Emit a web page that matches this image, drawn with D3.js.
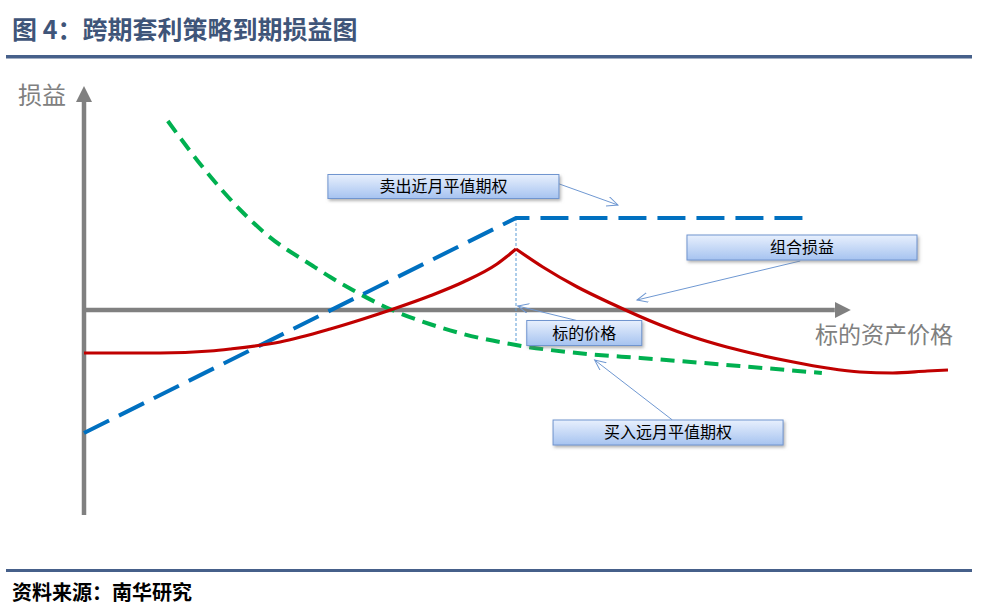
<!DOCTYPE html>
<html>
<head>
<meta charset="utf-8">
<script src="https://cdn.jsdelivr.net/npm/d3@7"></script>
<style>
body { margin: 0; background: #fff; }
text { font-family: "Noto Sans CJK SC", "Noto Sans", sans-serif; }
</style>
</head>
<body>
<svg width="981" height="609"></svg>
<script>
// texts
var title = "图 4：跨期套利策略到期损益图",
    source = "资料来源：南华研究",
    yLabel = "损益",
    xLabel = "标的资产价格";

// payoff at expiry (schematic)
var strike = 50;
var shortPrice = [0, 50, 83.2],
    shortPnl = [-12.3, 9.2, 9.2];
var longPrice = [9.7, 14.1, 18.1, 21.2, 26.5, 28.5, 31.1, 35.4, 40, 43.9, 50, 58.2, 64.4, 75.9, 85.4],
    longPnl = [18.9, 13.9, 10.0, 7.5, 4.4, 3.3, 2.0, 0.1, -1.4, -2.4, -3.5, -4.4, -4.8, -5.6, -6.3];
var comboPrice = [0, 8.8, 14.6, 16.9, 22.7, 28.5, 32.3, 35.8, 40, 43.9, 47.8, 50,
                  53.1, 57.1, 60.9, 66.7, 70.5, 74.4, 78.2, 82.1, 86.0, 89.8, 93.6, 97.6, 100],
    comboPnl = [-4.3, -4.3, -4.1, -3.9, -3.2, -1.9, -0.9, 0.1, 1.4, 2.8, 4.6, 6.1,
                4.3, 2.3, 0.7, -1.5, -2.7, -3.7, -4.5, -5.2, -5.8, -6.2, -6.3, -6.1, -6.0];
var calloutText = ["卖出近月平值期权", "组合损益", "标的价格", "买入远月平值期权"];

// callout layout, in chart units: box centre, arrow start, arrow end
var callouts = [
  {c: [41.6, 12.35], w: 231, h: 24, from: [54.7, 12.7], to: [61.8, 10.5]},
  {c: [83.1, 6.25], w: 230, h: 25, from: [82.9, 4.9], to: [64.0, 1.0]},
  {c: [57.9, -2.3], w: 115, h: 25, from: [58.2, -1.3], to: [50.2, 0.4]},
  {c: [67.6, -12.25], w: 230, h: 25, from: [68.1, -11.0], to: [59.1, -5.0]}
];

var svg = d3.select("svg");
var x = d3.scaleLinear().domain([0, 100]).range([84, 948]),
    y = d3.scaleLinear().domain([-20.5, 22.4]).range([515, 86]);
var xAxisEnd = 88.75;

var defs = svg.append("defs");
defs.append("marker")
    .attr("id", "axisHead")
    .attr("markerUnits", "userSpaceOnUse")
    .attr("markerWidth", 16).attr("markerHeight", 16)
    .attr("refX", 0).attr("refY", 8)
    .attr("orient", "auto")
  .append("path")
    .attr("d", "M0,0L16,8L0,16Z")
    .attr("fill", "#808080");
defs.append("marker")
    .attr("id", "openHead")
    .attr("markerUnits", "userSpaceOnUse")
    .attr("markerWidth", 14).attr("markerHeight", 12)
    .attr("refX", 11).attr("refY", 5)
    .attr("orient", "auto")
  .append("path")
    .attr("d", "M0,0L11,5L0,10")
    .attr("fill", "none")
    .attr("stroke", "#6f98d2")
    .attr("stroke-width", 1);
var grad = defs.append("linearGradient")
    .attr("id", "boxFill")
    .attr("x1", 0).attr("y1", 0).attr("x2", 0).attr("y2", 1);
grad.append("stop").attr("offset", "0%").attr("stop-color", "#e8f0fd");
grad.append("stop").attr("offset", "100%").attr("stop-color", "#a6c3f0");
var shadow = defs.append("filter")
    .attr("id", "shadow")
    .attr("x", "-10%").attr("y", "-30%").attr("width", "120%").attr("height", "180%");
shadow.append("feDropShadow")
    .attr("dx", 1.5).attr("dy", 2).attr("stdDeviation", 1.4)
    .attr("flood-color", "#777").attr("flood-opacity", 0.55);

// header and footer
svg.append("text")
    .attr("x", 12).attr("y", 39)
    .attr("font-size", 25).attr("font-weight", "bold")
    .attr("fill", "#3f5579")
    .text(title);
svg.append("rect")
    .attr("x", 6).attr("y", 55).attr("width", 966).attr("height", 3.5)
    .attr("fill", "#46608a");
svg.append("rect")
    .attr("x", 6).attr("y", 569).attr("width", 966).attr("height", 3)
    .attr("fill", "#46608a");
svg.append("text")
    .attr("x", 12).attr("y", 600)
    .attr("font-size", 20).attr("font-weight", "bold")
    .attr("fill", "#000")
    .text(source);

// axes
var g = svg.append("g");
g.append("line")
    .attr("x1", x(0)).attr("y1", y(y.domain()[0]))
    .attr("x2", x(0)).attr("y2", y(y.domain()[1]) + 16)
    .attr("stroke", "#808080").attr("stroke-width", 4.5)
    .attr("marker-end", "url(#axisHead)");
g.append("line")
    .attr("x1", x(0) - 2).attr("y1", y(0))
    .attr("x2", x(xAxisEnd) - 16).attr("y2", y(0))
    .attr("stroke", "#808080").attr("stroke-width", 4.5)
    .attr("marker-end", "url(#axisHead)");
g.append("text")
    .attr("x", 18).attr("y", 104)
    .attr("font-size", 24).attr("fill", "#808080")
    .text(yLabel);
g.append("text")
    .attr("x", 815).attr("y", 343)
    .attr("font-size", 23).attr("fill", "#808080")
    .text(xLabel);

// strike guide
g.append("line")
    .attr("x1", x(strike)).attr("y1", y(shortPnl[1]))
    .attr("x2", x(strike)).attr("y2", y(longPnl[longPrice.indexOf(strike)]))
    .attr("stroke", "#5b9bd5").attr("stroke-width", 1)
    .attr("stroke-dasharray", "3,2");

var curve = d3.line()
    .x(function(d) { return x(d[0]); })
    .y(function(d) { return y(d[1]); })
    .curve(d3.curveMonotoneX);

var longPts = d3.zip(longPrice, longPnl);
g.append("path")
    .datum(longPts)
    .attr("d", curve)
    .attr("fill", "none")
    .attr("stroke", "#00b050").attr("stroke-width", 4)
    .attr("stroke-dasharray", "14,8");

var shortPts = d3.zip(shortPrice, shortPnl);
g.append("path")
    .datum(shortPts)
    .attr("d", d3.line().x(function(d) { return x(d[0]); }).y(function(d) { return y(d[1]); }))
    .attr("fill", "none")
    .attr("stroke", "#0070c0").attr("stroke-width", 4)
    .attr("stroke-dasharray", "28,11");

// combined payoff has a kink at the strike, so draw each side separately
var comboPts = d3.zip(comboPrice, comboPnl),
    k = comboPrice.indexOf(strike);
[comboPts.slice(0, k + 1), comboPts.slice(k)].forEach(function(seg) {
  g.append("path")
      .datum(seg)
      .attr("d", curve)
      .attr("fill", "none")
      .attr("stroke", "#c00000").attr("stroke-width", 3.2)
      .attr("stroke-linejoin", "round");
});

// callouts
var cg = svg.append("g");
callouts.forEach(function(c, i) {
  cg.append("line")
      .attr("x1", x(c.from[0])).attr("y1", y(c.from[1]))
      .attr("x2", x(c.to[0])).attr("y2", y(c.to[1]))
      .attr("stroke", "#6f98d2").attr("stroke-width", 1)
      .attr("marker-end", "url(#openHead)");
  cg.append("rect")
      .attr("x", x(c.c[0]) - c.w / 2).attr("y", y(c.c[1]) - c.h / 2)
      .attr("width", c.w).attr("height", c.h)
      .attr("fill", "url(#boxFill)")
      .attr("stroke", "#7095cf").attr("stroke-width", 1)
      .attr("filter", "url(#shadow)");
  cg.append("text")
      .attr("x", x(c.c[0])).attr("y", y(c.c[1]))
      .attr("dy", "0.36em")
      .attr("text-anchor", "middle")
      .attr("font-size", 16).attr("fill", "#000")
      .text(calloutText[i]);
});
</script>
</body>
</html>
